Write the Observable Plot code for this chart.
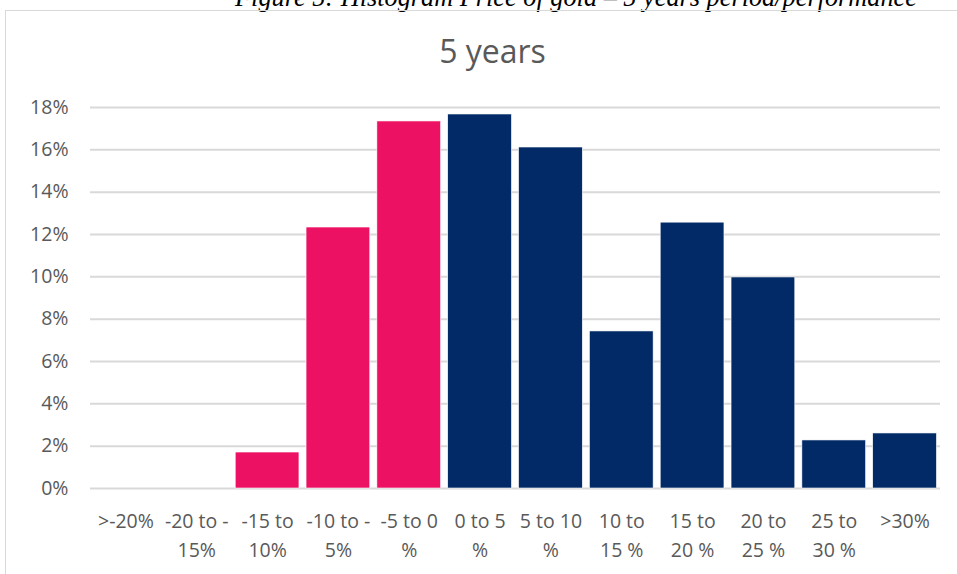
<!DOCTYPE html>
<html><head><meta charset="utf-8">
<script src="https://cdn.jsdelivr.net/npm/d3@7"></script>
<script src="https://cdn.jsdelivr.net/npm/@observablehq/plot@0.6"></script>
<style>
html,body{margin:0;padding:0;background:#fff;}
#page{position:relative;width:957px;height:574px;overflow:hidden;background:#fff;}
#caption{position:absolute;left:0;width:1152px;top:-15px;line-height:26px;text-align:center;font-family:"Liberation Serif",serif;font-style:italic;font-size:26.3px;color:#000;white-space:nowrap;}
#frame{position:absolute;left:5px;top:10px;width:960px;height:600px;border:1.5px solid #d9d9d9;box-sizing:border-box;}
#title{position:absolute;left:0;width:985px;top:35px;line-height:32px;text-align:center;font-family:"Open Sans",sans-serif;font-size:32px;color:#595959;}
#chart{position:absolute;left:0;top:80px;}
</style></head>
<body><div id="page">
<div id="caption">Figure 5: Histogram Price of gold – 5 years period/performance</div>
<div id="frame"></div>
<div id="title">5 years</div>
<div id="chart"></div>
</div>
<script>
const categories = [">-20%", "-20 to -\n15%", "-15 to\n10%", "-10 to -\n5%", "-5 to 0\n%", "0 to 5\n%", "5 to 10\n%", "10 to\n15 %", "15 to\n20 %", "20 to\n25 %", "25 to\n30 %", ">30%"];
const values = [0, 0, 0.0170, 0.1233, 0.1734, 0.1767, 0.1611, 0.0742, 0.1256, 0.0997, 0.0227, 0.0260];
const groups = ["neg", "neg", "neg", "neg", "neg", "pos", "pos", "pos", "pos", "pos", "pos", "pos"];
const yTicks = [0, 0.02, 0.04, 0.06, 0.08, 0.10, 0.12, 0.14, 0.16, 0.18];

const data = categories.map((c, i) => ({cat: c, value: values[i], group: groups[i]}));

const chart = Plot.plot({
  width: 957,
  height: 494,
  marginLeft: 90,
  marginRight: 17,
  marginTop: 27,
  marginBottom: 86,
  style: {fontFamily: "'Open Sans', sans-serif", fontSize: "19.5px", color: "#595959", background: "transparent"},
  x: {domain: categories, paddingInner: 0.1, paddingOuter: 0.05, round: false, label: null, tickSize: 0},
  y: {domain: [0, 0.18], ticks: yTicks, tickFormat: d3.format(".0%"), label: null, tickSize: 0},
  color: {domain: ["neg", "pos"], range: ["#ED1164", "#012A66"]},
  marks: [
    Plot.gridY(yTicks, {stroke: "#d9d9d9", strokeOpacity: 1, strokeWidth: 2}),
    Plot.barY(data, {x: "cat", y: "value", fill: "group", stroke: "#ffffff", strokeWidth: 0.6}),
    Plot.axisX({tickSize: 0, tickPadding: 20, lineHeight: 1.44, fill: "#595959"}),
    Plot.axisY({ticks: yTicks, tickFormat: d3.format(".0%"), tickSize: 0, tickPadding: 22, fill: "#595959"})
  ]
});
document.getElementById("chart").appendChild(chart);
</script>
</body></html>
